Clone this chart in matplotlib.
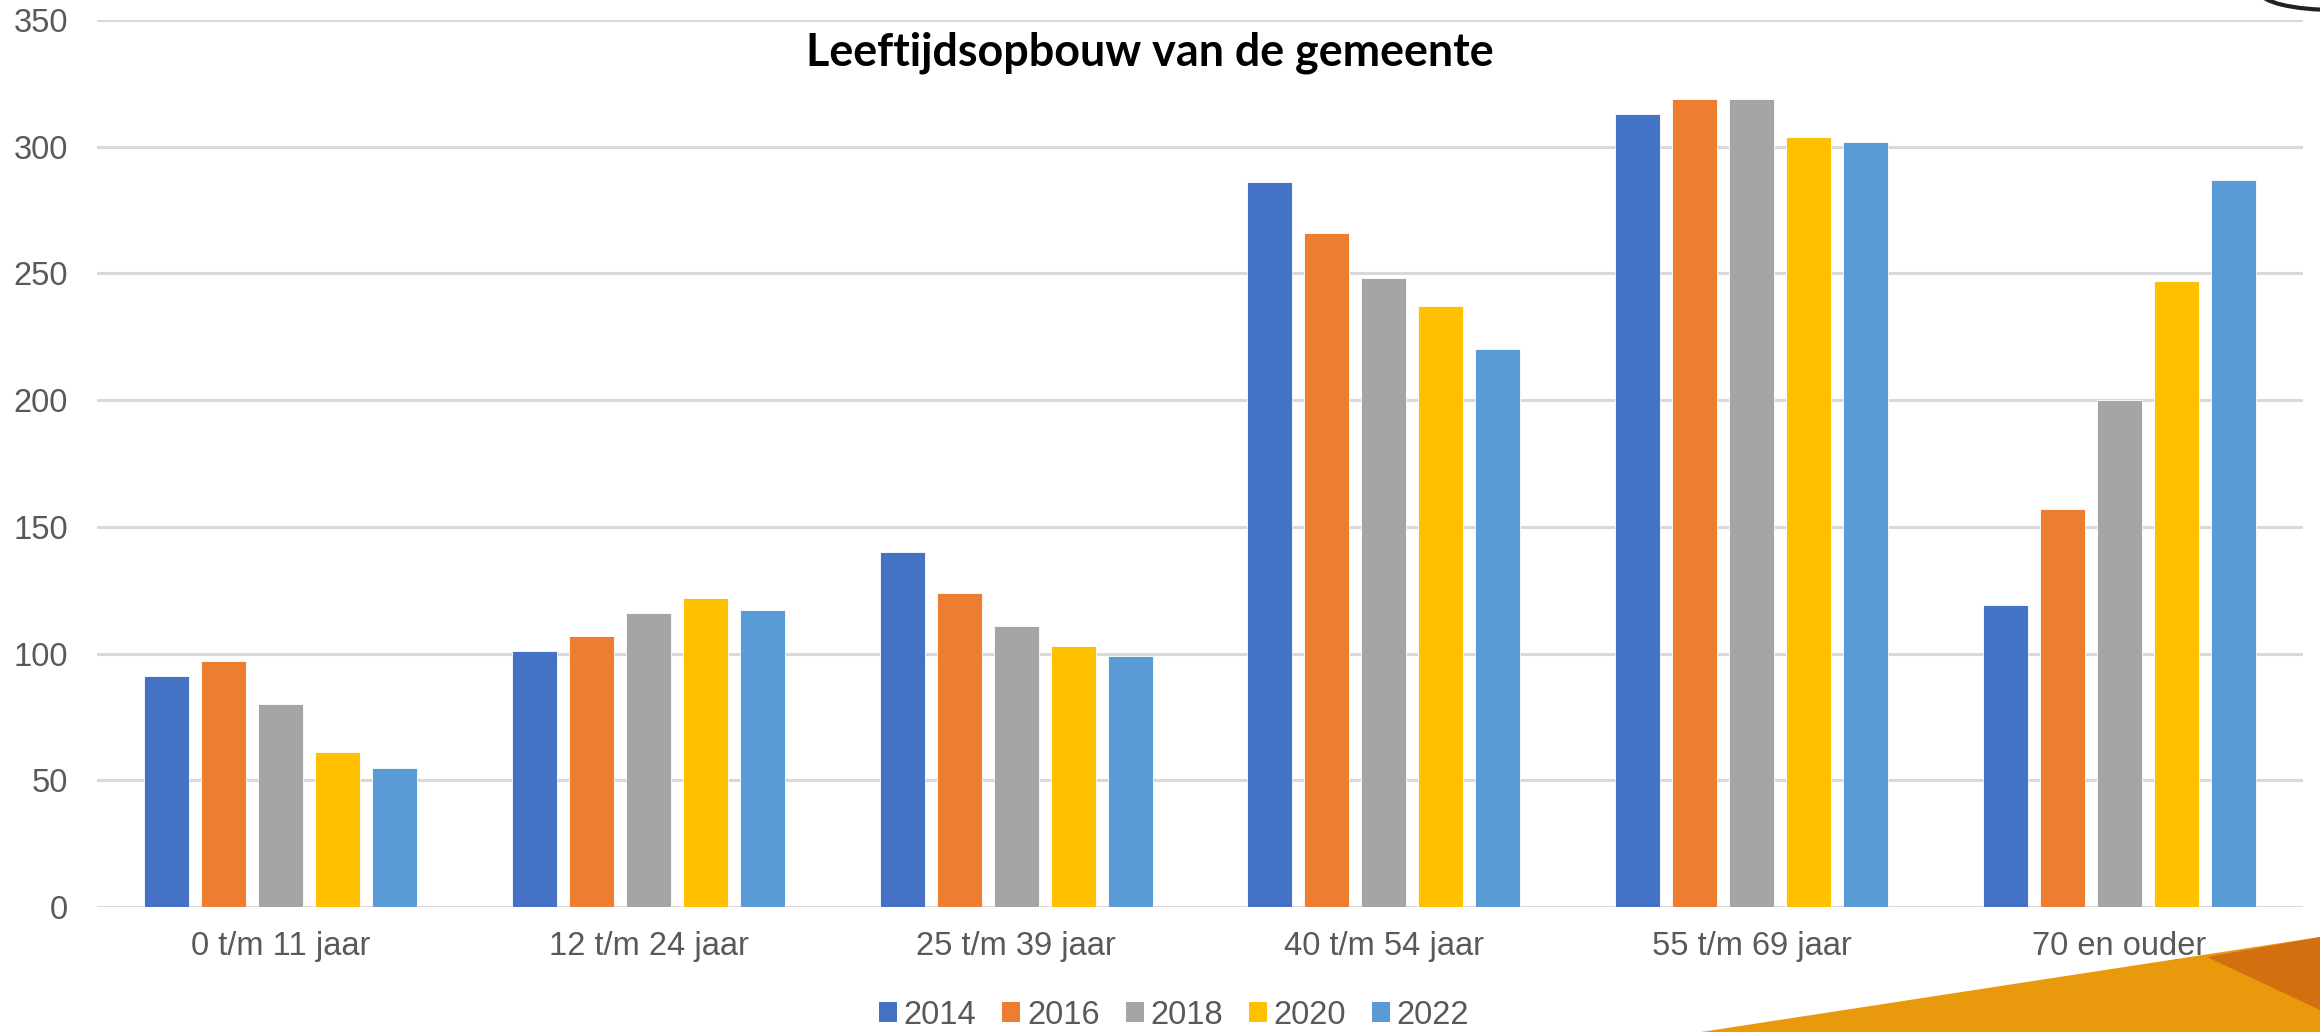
import numpy as np
import matplotlib.pyplot as plt
from matplotlib.patches import Patch, Polygon, Ellipse

# ── data ──────────────────────────────────────────────
categories = ["0 t/m 11 jaar", "12 t/m 24 jaar", "25 t/m 39 jaar",
              "40 t/m 54 jaar", "55 t/m 69 jaar", "70 en ouder"]
years = ["2014", "2016", "2018", "2020", "2022"]
v2014 = [91, 101, 140, 286, 313, 119]
v2016 = [97, 107, 124, 266, 319, 157]
v2018 = [80, 116, 111, 248, 319, 200]
v2020 = [61, 122, 103, 237, 304, 247]
v2022 = [55, 117, 99, 220, 302, 287]
series = [v2014, v2016, v2018, v2020, v2022]
colors = ["#4472C4", "#ED7D31", "#A5A5A5", "#FFC000", "#5B9BD5"]

plt.rcParams["font.family"] = ["Liberation Sans", "DejaVu Sans"]

fig = plt.figure(figsize=(23.2, 10.32), dpi=100)
ax = fig.add_axes([97 / 2320, 1 - 907 / 1032, 2206 / 2320, 887 / 1032])

x = np.arange(len(categories))
bar_w = 0.1224
step = 0.155
for i, (vals, c) in enumerate(zip(series, colors)):
    ax.bar(x + (i - 2) * step, vals, width=bar_w, color=c,
           edgecolor="white", linewidth=0.6, zorder=3, label=years[i])

ax.set_xlim(-0.5, len(categories) - 0.5)
ax.set_ylim(0, 350)
ax.set_yticks(np.arange(0, 351, 50))
ax.set_xticks(x)
ax.set_xticklabels(categories)
ax.tick_params(axis="both", length=0, labelsize=23.5, colors="#595959")
ax.tick_params(axis="y", pad=21)
ax.tick_params(axis="x", pad=17)
ax.grid(axis="y", color="#D9D9D9", linewidth=2.2, zorder=0)
for s in ax.spines.values():
    s.set_visible(False)

fig.text(1150 / 2320, 1 - 53 / 1032, "Leeftijdsopbouw van de gemeente",
         ha="center", va="center", fontsize=32.3, fontweight="bold",
         family=["Lato", "DejaVu Sans"], color="black")

handles = [Patch(facecolor=c, edgecolor="none") for c in colors]
fig.legend(handles, years, loc="center", bbox_to_anchor=(1174 / 2320, 1 - 1015 / 1032),
           ncol=5, frameon=False, fontsize=23.5, labelcolor="#595959",
           handlelength=0.55, handleheight=0.55, handletextpad=0.2,
           columnspacing=0.8, borderpad=0)

# ── decoration bottom right ───────────────────────────
fig.patches.append(Polygon([[1701 / 2320, 0], [2320 / 2320, 1 - 937 / 1032], [1, 0]],
                           closed=True, transform=fig.transFigure,
                           facecolor="#E99A0C", edgecolor="none", zorder=0))
fig.patches.append(Polygon([[2207 / 2320, 1 - 957 / 1032], [1, 1 - 937 / 1032],
                            [1, 1 - 1010 / 1032]],
                           closed=True, transform=fig.transFigure,
                           facecolor="#D46F10", edgecolor="none", zorder=0))
# logo fragment top right
fig.patches.append(Ellipse((2335 / 2320, 1 + 8 / 1032), 150 / 2320, 36 / 1032,
                           transform=fig.transFigure, facecolor="white",
                           edgecolor="#222222", linewidth=3, zorder=5))

fig.savefig("out.png", dpi=100)
